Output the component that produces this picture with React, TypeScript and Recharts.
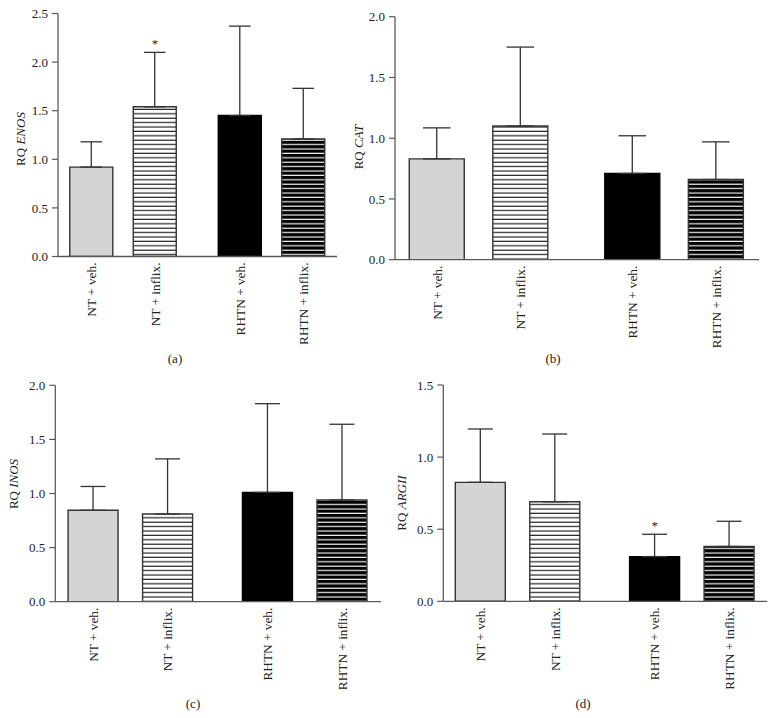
import React from "react";
import { Bar, BarChart, Cell, ErrorBar, ReferenceDot, XAxis, YAxis } from "recharts";

const SERIF = "'Liberation Serif', 'Times New Roman', serif";

const GROUPS = ["NT + veh.", "NT + inflix.", "RHTN + veh.", "RHTN + inflix."];
// group centres on a numeric axis, the RHTN pair sits a bit further out
const GROUP_POS = [1, 2, 3.34, 4.34];

const ENOS_MEAN = [0.92, 1.54, 1.45, 1.21];
const ENOS_ERR = [0.26, 0.56, 0.92, 0.52];
const ENOS_SIG = ["", "*", "", ""];

const CAT_MEAN = [0.83, 1.1, 0.71, 0.66];
const CAT_ERR = [0.255, 0.65, 0.31, 0.31];
const CAT_SIG = ["", "", "", ""];

const INOS_MEAN = [0.845, 0.81, 1.01, 0.94];
const INOS_ERR = [0.22, 0.51, 0.82, 0.7];
const INOS_SIG = ["", "", "", ""];

const ARGII_MEAN = [0.825, 0.69, 0.31, 0.38];
const ARGII_ERR = [0.37, 0.47, 0.155, 0.175];
const ARGII_SIG = ["", "", "*", ""];

const TICKS_25 = [0, 0.5, 1, 1.5, 2, 2.5];
const TICKS_20 = [0, 0.5, 1, 1.5, 2];
const TICKS_15 = [0, 0.5, 1, 1.5];

const AXIS_COLOR = "#5a5a5a";
const BAR_STROKE = "#333";
const FS = 13;

function XTick({ x, y, payload }: any) {
  const idx = GROUP_POS.indexOf(payload.value);
  return (
    <g transform={`translate(${x},${y})`}>
      <text
        transform="rotate(-90)"
        textAnchor="end"
        dy="0.34em"
        fontSize={13.3}
        fontFamily={SERIF}
        fill="#222"
      >
        {GROUPS[idx]}
      </text>
    </g>
  );
}

type PanelProps = {
  id: string;
  gene: string;
  mean: number[];
  err: number[];
  sig: string[];
  yTicks: number[];
  box: { left: number; top: number; width: number; height: number };
  plot: { x0: number; x1: number; y0: number; y1: number };
  pad: [number, number];
  barSize: number;
  label: { x: number; y: number };
  letter: { text: string; x: number; y: number };
};

function Panel(p: PanelProps) {
  const data = GROUPS.map((name, i) => ({
    name,
    pos: GROUP_POS[i],
    value: p.mean[i],
    err: [0, p.err[i]],
    sig: p.sig[i],
  }));
  const fills = ["#d4d4d4", `url(#hw-${p.id})`, "#000", `url(#hb-${p.id})`];
  const yMax = p.yTicks[p.yTicks.length - 1];
  const margin = {
    top: p.plot.y0 - p.box.top,
    right: p.box.left + p.box.width - p.plot.x1,
    left: 0,
    bottom: 0,
  };
  const yWidth = p.plot.x0 - p.box.left;
  const xHeight = p.box.top + p.box.height - p.plot.y1;

  return (
    <div style={{ position: "absolute", left: p.box.left, top: p.box.top }}>
      <BarChart width={p.box.width} height={p.box.height} data={data} margin={margin}>
        <defs>
          <pattern id={`hw-${p.id}`} width="6" height="4.4" patternUnits="userSpaceOnUse">
            <rect width="6" height="4.4" fill="#fff" />
            <rect y="3.2" width="6" height="1.2" fill="#222" />
          </pattern>
          <pattern id={`hb-${p.id}`} width="6" height="4.4" patternUnits="userSpaceOnUse">
            <rect width="6" height="4.4" fill="#000" />
            <rect y="3.2" width="6" height="1.2" fill="#f2f2f2" />
          </pattern>
        </defs>
        <XAxis
          dataKey="pos"
          type="number"
          domain={[1 - p.pad[0], GROUP_POS[3] + p.pad[1]]}
          ticks={GROUP_POS}
          interval={0}
          height={xHeight}
          tickLine={false}
          tickSize={0}
          tickMargin={6}
          tick={<XTick />}
          axisLine={{ stroke: AXIS_COLOR, strokeWidth: 1.3 }}
        />
        <YAxis
          type="number"
          domain={[0, yMax]}
          ticks={p.yTicks}
          allowDataOverflow
          width={yWidth}
          tickSize={6}
          tickMargin={4}
          tickFormatter={(v: number) => v.toFixed(1)}
          tick={{ fill: "#222", fontSize: FS, fontFamily: SERIF }}
          tickLine={{ stroke: AXIS_COLOR, strokeWidth: 1.2 }}
          axisLine={{ stroke: AXIS_COLOR, strokeWidth: 1.3 }}
          label={{
            content: () => (
              <text
                transform={`translate(${p.label.x - p.box.left},${p.label.y - p.box.top}) rotate(-90)`}
                textAnchor="middle"
                dy="0.34em"
                fontSize={FS}
                fontFamily={SERIF}
                fill="#222"
              >
                RQ <tspan fontStyle="italic">{p.gene}</tspan>
              </text>
            ),
          }}
        />
        <Bar
          dataKey="value"
          barSize={p.barSize}
          stroke={BAR_STROKE}
          strokeWidth={1.4}
          isAnimationActive={false}
        >
          {data.map((d, i) => (
            <Cell key={d.name} fill={fills[i]} stroke={i === 2 ? "#000" : BAR_STROKE} />
          ))}
          <ErrorBar
            dataKey="err"
            width={p.barSize / 4}
            stroke="#333"
            strokeWidth={1.3}
            isAnimationActive={false}
          />
        </Bar>
        {data
          .filter((d) => d.sig)
          .map((d) => (
            <ReferenceDot
              key={d.name}
              x={d.pos}
              y={d.value + d.err[1]}
              r={0}
              shape={(s: any) => (
                <text
                  x={s.cx}
                  y={s.cy - 4}
                  textAnchor="middle"
                  fontSize={FS}
                  fontFamily={SERIF}
                  fill="#222"
                >
                  {d.sig}
                </text>
              )}
            />
          ))}
      </BarChart>
      <div
        style={{
          position: "absolute",
          left: p.letter.x - p.box.left - 20,
          top: p.letter.y - p.box.top - 12,
          width: 40,
          textAlign: "center",
          fontFamily: SERIF,
          fontSize: FS,
          color: "#222",
          lineHeight: "15px",
        }}
      >
        {p.letter.text}
      </div>
    </div>
  );
}

export default function App() {
  return (
    <div
      style={{
        position: "absolute",
        left: 0,
        top: 0,
        width: 776,
        height: 718,
        background: "#fff",
        overflow: "hidden",
      }}
    >
      <Panel
        id="a"
        gene="ENOS"
        mean={ENOS_MEAN}
        err={ENOS_ERR}
        sig={ENOS_SIG}
        yTicks={TICKS_25}
        box={{ left: 0, top: 0, width: 390, height: 360 }}
        plot={{ x0: 58, x1: 337, y0: 13.5, y1: 256.5 }}
        pad={[0.528, 0.528]}
        barSize={43}
        label={{ x: 21, y: 139 }}
        letter={{ text: "(a)", x: 175, y: 363 }}
      />
      <Panel
        id="b"
        gene="CAT"
        mean={CAT_MEAN}
        err={CAT_ERR}
        sig={CAT_SIG}
        yTicks={TICKS_20}
        box={{ left: 340, top: 0, width: 436, height: 360 }}
        plot={{ x0: 395, x1: 759, y0: 16.7, y1: 259.7 }}
        pad={[0.503, 0.513]}
        barSize={55}
        label={{ x: 359, y: 147 }}
        letter={{ text: "(b)", x: 553, y: 363 }}
      />
      <Panel
        id="c"
        gene="INOS"
        mean={INOS_MEAN}
        err={INOS_ERR}
        sig={INOS_SIG}
        yTicks={TICKS_20}
        box={{ left: 0, top: 360, width: 390, height: 358 }}
        plot={{ x0: 55.3, x1: 381, y0: 385.3, y1: 601.7 }}
        pad={[0.51, 0.52]}
        barSize={50}
        label={{ x: 14, y: 484 }}
        letter={{ text: "(c)", x: 193, y: 708 }}
      />
      <Panel
        id="d"
        gene="ARGII"
        mean={ARGII_MEAN}
        err={ARGII_ERR}
        sig={ARGII_SIG}
        yTicks={TICKS_15}
        box={{ left: 340, top: 360, width: 436, height: 358 }}
        plot={{ x0: 443.3, x1: 767.3, y0: 385, y1: 601.3 }}
        pad={[0.5, 0.51]}
        barSize={50}
        label={{ x: 402, y: 503 }}
        letter={{ text: "(d)", x: 583, y: 708 }}
      />
    </div>
  );
}
